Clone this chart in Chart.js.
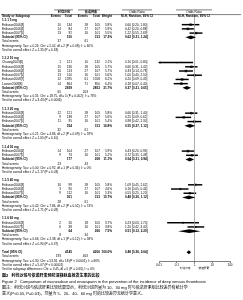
<!DOCTYPE html>
<html>
<head>
<meta charset="utf-8">
<script src="https://cdn.jsdelivr.net/npm/chart.js@4/dist/chart.umd.min.js"></script>
<style>
  html, body { margin: 0; padding: 0; background: #fff; }
  #wrap { width: 243px; height: 300px; position: relative; }
</style>
</head>
<body>
<div id="wrap"><canvas id="forest"></canvas></div>
<script>
"use strict";
// ---- data ----
const groupNames = ['1.1.1 5 mg', '1.1.2 10 mg', '1.1.3 20 mg', '1.1.4 30 mg', '1.1.5 40 mg', '1.1.6 60 mg'];
const studyNames = [
  'Eriksson2006[3]', 'Eriksson2006[4]', 'Eriksson2007[5]',
  'Chuang2003[6]', 'Eriksson2006[3]', 'Eriksson2006[4]', 'Eriksson2007[5]', 'Eriksson2008[7]', 'Lassen2008[8]',
  'Eriksson2006[3]', 'Eriksson2006[4]', 'Eriksson2007[5]',
  'Eriksson2006[4]', 'Eriksson2007[5]',
  'Eriksson2006[3]', 'Eriksson2006[4]', 'Eriksson2007[5]',
  'Eriksson2006[3]', 'Eriksson2007[5]'
];
const studyGroup = [0, 0, 0, 1, 1, 1, 1, 1, 1, 2, 2, 2, 3, 3, 4, 4, 4, 5, 5];
const expEvents = [10, 14, 13, 1, 15, 10, 13, 12, 14, 12, 9, 11, 14, 9, 16, 3, 9, 2, 6];
const expTotals = [134, 84, 92, 121, 136, 113, 110, 1595, 864, 121, 138, 95, 104, 73, 99, 90, 112, 26, 38];
const ctlEvents = [18, 27, 16, 10, 18, 27, 16, 61, 71, 18, 27, 16, 27, 16, 18, 27, 16, 18, 16];
const ctlTotals = [105, 107, 101, 132, 105, 107, 101, 1558, 850, 105, 107, 101, 107, 101, 105, 107, 101, 105, 101];
const studyWeight = [5.8, 5.9, 5.5, 2.1, 5.7, 5.7, 5.6, 6.2, 6.4, 5.8, 5.6, 5.4, 5.9, 5.2, 5.8, 4.6, 5.3, 3.7, 3.8];
const studyOR = [0.60, 0.42, 1.22, 0.10, 0.66, 0.33, 1.00, 0.20, 0.18, 0.66, 0.25, 0.98, 0.43, 0.72, 1.09, 0.16, 0.55, 0.23, 1.20];
const studyLow = [0.20, 0.20, 0.55, 0.01, 0.31, 0.14, 0.40, 0.09, 0.07, 0.31, 0.09, 0.42, 0.20, 0.35, 0.45, 0.05, 0.25, 0.03, 0.42];
const studyHigh = [1.80, 0.88, 2.69, 0.80, 1.42, 0.78, 2.50, 0.45, 0.40, 1.40, 0.62, 2.30, 0.94, 1.48, 2.62, 0.44, 1.20, 1.70, 3.40];

const subExpTotal = [310, 2939, 354, 177, 301, 64];
const subCtlTotal = [313, 2853, 313, 208, 313, 206];
const subExpEvents = [37, 65, 32, 23, 28, 8];
const subCtlEvents = [61, 203, 61, 43, 61, 34];
const subWeight = [17.2, 31.7, 16.8, 11.1, 15.7, 7.5];
const subOR = [0.62, 0.37, 0.55, 0.54, 0.48, 0.51];
const subLow = [0.31, 0.21, 0.27, 0.31, 0.20, 0.12];
const subHigh = [1.24, 0.65, 1.12, 0.94, 1.12, 2.20];
const subHetero = [
  'Tau² = 0.24; Chi² = 5.02, df = 2 (P = 0.08); I² = 60%',
  'Tau² = 0.31; Chi² = 18.75, df = 5 (P = 0.002); I² = 73%',
  'Tau² = 0.21; Chi² = 4.86, df = 2 (P = 0.09); I² = 59%',
  'Tau² = 0.00; Chi² = 0.92, df = 1 (P = 0.34); I² = 0%',
  'Tau² = 0.42; Chi² = 7.84, df = 2 (P = 0.02); I² = 74%',
  'Tau² = 0.66; Chi² = 2.38, df = 1 (P = 0.12); I² = 58%'
];
const subTest = [
  'Z = 1.35 (P = 0.18)', 'Z = 3.43 (P = 0.0006)', 'Z = 1.65 (P = 0.10)',
  'Z = 2.17 (P = 0.03)', 'Z = 1.71 (P = 0.09)', 'Z = 0.90 (P = 0.37)'
];

const totalCounts = [4145, 4206];      // experimental, control
const totalEvents = [193, 463];
const totalOR = [0.48, 0.36, 0.64];    // estimate, low, high
const totalLines = [
  'Heterogeneity: Tau² = 0.30; Chi² = 53.56, df = 18 (P < 0.0001); I² = 66%',
  'Test for overall effect: Z = 5.07 (P < 0.00001)',
  'Test for subgroup differences: Chi² = 3.45, df = 5 (P = 0.63), I² = 0%'
];
const xTicks = [0.01, 0.1, 1, 10, 100];
const armNames = ['利伐沙班', '依诺肝素'];
const captionLines = [
  '图2   利伐沙班与依诺肝素预防深静脉血栓发生率的比较',
  'Figure 2   Comparison of rivaroxaban and enoxaparin in the prevention of the incidence of deep venous thrombosis',
  '图注：利伐沙班与依诺肝素比较结果显示，利伐沙班剂量为 10、30 mg 时与依诺肝素组比较差异有统计学',
  '意义(P<0.05, P=0.03)，剂量为 5、20、40、60 mg 时的比较差异无统计学意义。'
];

// ---- row layout ----
const rows = [];
let r = 2;
groupNames.forEach((g, gi) => {
  rows.push({ kind: 'group', y: r++, text: g });
  studyNames.forEach((s, i) => {
    if (studyGroup[i] === gi) rows.push({ kind: 'study', y: r++, i: i });
  });
  rows.push({ kind: 'sub', y: r++, gi: gi });
  rows.push({ kind: 'events', y: r++, e: subExpEvents[gi], c: subCtlEvents[gi] });
  rows.push({ kind: 'note', y: r++, text: 'Heterogeneity: ' + subHetero[gi] });
  rows.push({ kind: 'note', y: r++, text: 'Test for overall effect: ' + subTest[gi] });
  r++;
});
const totalRow = r;

const ciData = [], sqData = [], diamonds = [];
rows.forEach(row => {
  if (row.kind === 'study') {
    ciData.push({ x: [studyLow[row.i], studyHigh[row.i]], y: row.y });
    sqData.push({ x: studyOR[row.i], y: row.y, w: studyWeight[row.i] });
  } else if (row.kind === 'sub') {
    diamonds.push({ y: row.y, est: subOR[row.gi], lo: subLow[row.gi], hi: subHigh[row.gi] });
  }
});
diamonds.push({ y: totalRow, est: totalOR[0], lo: totalOR[1], hi: totalOR[2] });

const FONT = '"Liberation Sans", Arial, "Noto Sans CJK SC", sans-serif';
const FS = 3.1;
const ci = (o, l, h) => o.toFixed(2) + ' [' + l.toFixed(2) + ', ' + h.toFixed(2) + ']';
const COL = { name: 2, e1: 61, t1: 72, e2: 88, t2: 100, w: 112, ci: 125, orHead: 137, plotHead: 194 };

const forestText = {
  id: 'forestText',
  afterDatasetsDraw(chart) {
    const { ctx, scales: { x, y }, chartArea } = chart;
    ctx.save();
    // line of no effect
    ctx.strokeStyle = '#999';
    ctx.lineWidth = 0.8;
    ctx.beginPath();
    ctx.moveTo(x.getPixelForValue(1), 14.5);
    ctx.lineTo(x.getPixelForValue(1), chartArea.bottom);
    ctx.stroke();
    // diamonds
    ctx.fillStyle = '#000';
    diamonds.forEach(d => {
      const yc = y.getPixelForValue(d.y), hh = 1.9;
      ctx.beginPath();
      ctx.moveTo(x.getPixelForValue(d.lo), yc);
      ctx.lineTo(x.getPixelForValue(d.est), yc - hh);
      ctx.lineTo(x.getPixelForValue(d.hi), yc);
      ctx.lineTo(x.getPixelForValue(d.est), yc + hh);
      ctx.closePath();
      ctx.fill();
    });
    // arrows for CIs running off the scale
    ciData.forEach(c => {
      if (c.x[0] <= xTicks[0]) {
        const yc = y.getPixelForValue(c.y), xl = chartArea.left;
        ctx.beginPath();
        ctx.moveTo(xl - 1, yc);
        ctx.lineTo(xl + 1.5, yc - 1.2);
        ctx.lineTo(xl + 1.5, yc + 1.2);
        ctx.closePath();
        ctx.fill();
      }
    });
    ctx.restore();
  },
  afterDraw(chart) {
    const { ctx, scales: { x, y } } = chart;
    const put = (txt, px, row, align, bold, size) => {
      ctx.font = (bold ? 'bold ' : '') + (size || FS) + 'px ' + FONT;
      ctx.textAlign = align;
      ctx.fillText(txt, px, row < 100 ? y.getPixelForValue(row) : row);
    };
    ctx.save();
    ctx.fillStyle = '#000';
    ctx.textBaseline = 'middle';
    // headers
    put(armNames[0], 64, 0, 'center', true);
    put(armNames[1], 91, 0, 'center', true);
    put('Odds Ratio', COL.orHead, 0, 'center', false);
    put('Odds Ratio', COL.plotHead, 0, 'center', false);
    put('Study or Subgroup', COL.name, 1, 'left', true);
    put('Events', COL.e1, 1, 'right', true);
    put('Total', COL.t1, 1, 'right', true);
    put('Events', COL.e2, 1, 'right', true);
    put('Total', COL.t2, 1, 'right', true);
    put('Weight', COL.w, 1, 'right', true);
    put('M-H, Random, 95% CI', COL.orHead, 1, 'center', true);
    put('M-H, Random, 95% CI', COL.plotHead, 1, 'center', true);
    ctx.strokeStyle = '#000';
    ctx.lineWidth = 0.5;
    const hl = (x1, x2, yy) => { ctx.beginPath(); ctx.moveTo(x1, yy); ctx.lineTo(x2, yy); ctx.stroke(); };
    hl(54, 73, 9.9); hl(78, 100, 9.9); hl(122, 152, 9.9); hl(176, 212, 9.9);
    hl(1, 241, 14.6);

    rows.forEach(row => {
      if (row.kind === 'group') put(row.text, COL.name, row.y, 'left', true);
      else if (row.kind === 'study') {
        const i = row.i;
        put(studyNames[i], COL.name, row.y, 'left', false);
        put(String(expEvents[i]), COL.e1, row.y, 'right');
        put(String(expTotals[i]), COL.t1, row.y, 'right');
        put(String(ctlEvents[i]), COL.e2, row.y, 'right');
        put(String(ctlTotals[i]), COL.t2, row.y, 'right');
        put(studyWeight[i].toFixed(1) + '%', COL.w, row.y, 'right');
        put(ci(studyOR[i], studyLow[i], studyHigh[i]), COL.ci, row.y, 'left');
      } else if (row.kind === 'sub') {
        const g = row.gi;
        put('Subtotal (95% CI)', COL.name, row.y, 'left', true);
        put(String(subExpTotal[g]), COL.t1, row.y, 'right', true);
        put(String(subCtlTotal[g]), COL.t2, row.y, 'right', true);
        put(subWeight[g].toFixed(1) + '%', COL.w, row.y, 'right', true);
        put(ci(subOR[g], subLow[g], subHigh[g]), COL.ci, row.y, 'left', true);
      } else if (row.kind === 'events') {
        put('Total events', COL.name, row.y, 'left');
        put(String(row.e), COL.e1, row.y, 'right');
        put(String(row.c), COL.e2, row.y, 'right');
      } else {
        put(row.text, COL.name, row.y, 'left');
      }
    });
    // overall
    put('Total (95% CI)', COL.name, totalRow, 'left', true);
    put(String(totalCounts[0]), COL.t1, totalRow, 'right', true);
    put(String(totalCounts[1]), COL.t2, totalRow, 'right', true);
    put('100.0%', COL.w, totalRow, 'right', true);
    put(ci(totalOR[0], totalOR[1], totalOR[2]), COL.ci, totalRow, 'left', true);
    put('Total events', COL.name, totalRow + 1, 'left');
    put(String(totalEvents[0]), COL.e1, totalRow + 1, 'right');
    put(String(totalEvents[1]), COL.e2, totalRow + 1, 'right');
    totalLines.forEach((t, k) => put(t, COL.name, totalRow + 2 + k, 'left'));
    // favours labels
    const one = x.getPixelForValue(1);
    put(armNames[0], one - 4, 268, 'right', false, 2.7);
    put(armNames[1], one + 4, 268, 'left', false, 2.7);
    // caption
    put(captionLines[0], 2, 275.5, 'left', true, 4);
    put(captionLines[1], 2, 281.5, 'left', false, 4);
    put(captionLines[2], 2, 287.5, 'left', false, 4);
    put(captionLines[3], 2, 293.5, 'left', false, 4);
    ctx.restore();
  }
};

new Chart(document.getElementById('forest'), {
  type: 'bar',
  data: {
    datasets: [
      {
        type: 'bar',
        indexAxis: 'y',
        data: ciData,
        backgroundColor: '#000',
        barThickness: 0.8,
        borderWidth: 0,
        grouped: false
      },
      {
        type: 'scatter',
        data: sqData,
        pointStyle: 'rect',
        backgroundColor: '#444',
        borderWidth: 0,
        pointRadius: c => 0.5 + c.raw.w * 0.22
      }
    ]
  },
  options: {
    responsive: true,
    maintainAspectRatio: false,
    animation: false,
    events: [],
    layout: { padding: { left: 159, right: 13, top: 0, bottom: 33 } },
    plugins: { legend: { display: false }, tooltip: { enabled: false } },
    scales: {
      x: {
        type: 'logarithmic',
        offset: false,
        min: xTicks[0],
        max: xTicks[xTicks.length - 1],
        afterBuildTicks: s => { s.ticks = xTicks.map(v => ({ value: v })); },
        afterFit: s => { s.height = 6; },
        grid: { display: true, offset: false, drawOnChartArea: false, drawTicks: true, tickLength: 2, color: '#000', lineWidth: 0.5 },
        border: { display: true, color: '#000', width: 0.5 },
        ticks: {
          autoSkip: false, maxRotation: 0, padding: 0.5, color: '#000',
          font: { size: 3, family: FONT },
          callback: v => String(v)
        }
      },
      y: {
        type: 'linear',
        offset: false,
        reverse: true,
        min: 2 - 16.7 / 4.28,
        max: 2 - 16.7 / 4.28 + 261 / 4.28,
        display: false,
        grid: { offset: false }
      }
    }
  },
  plugins: [forestText]
});
</script>
</body>
</html>
